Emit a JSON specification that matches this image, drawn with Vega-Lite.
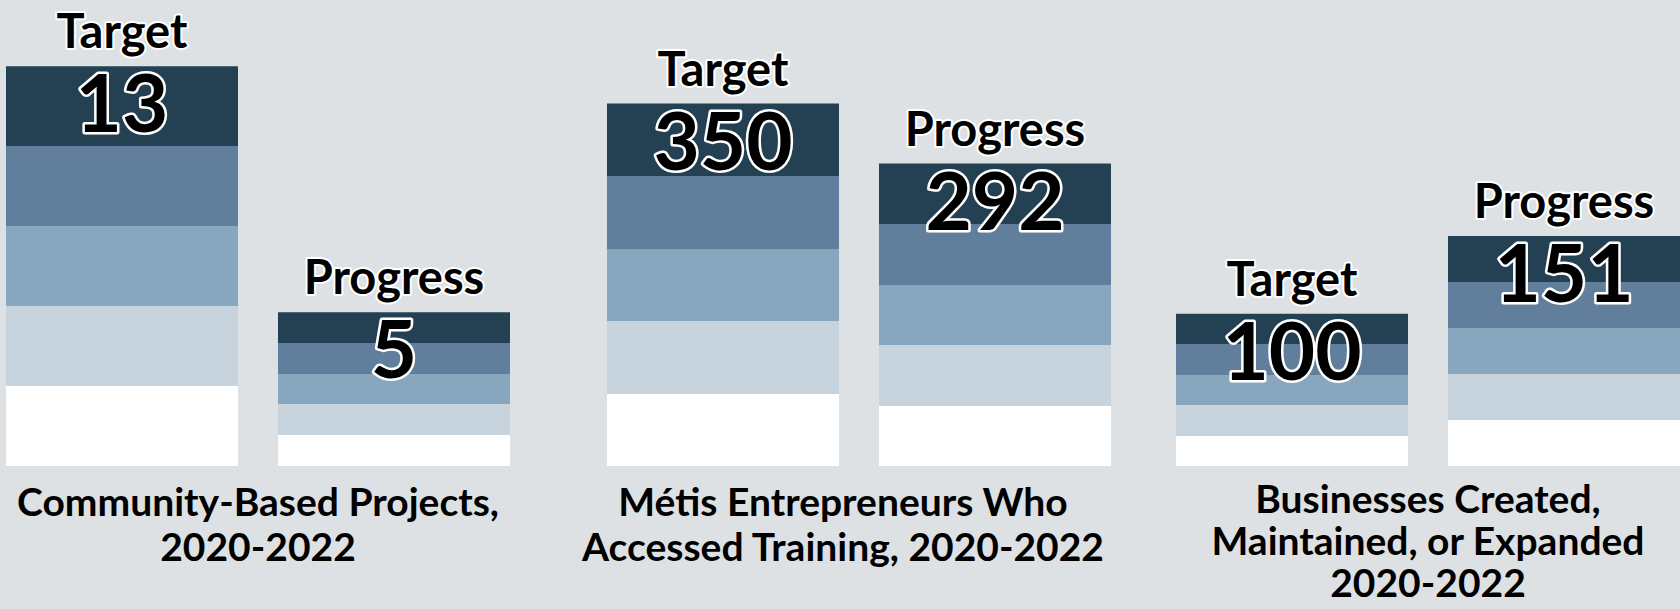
{
  "$schema": "https://vega.github.io/schema/vega-lite/v6.json",
  "background": "#dde1e3",
  "autosize": {"type": "none"},
  "padding": {"left": 6, "top": 0, "right": 1674, "bottom": 609},
  "spacing": 65,
  "bounds": "flush",
  "config": {
    "view": {"stroke": null},
    "font": "Lato",
    "title": {"font": "Lato", "fontSize": 39, "fontWeight": "bold", "color": "#000000", "lineHeight": 45, "offset": 19, "anchor": "middle", "orient": "bottom"}
  },
  "data": {"values": [
    {"group": "Community-Based Projects", "kind": "Target", "value": 13},
    {"group": "Community-Based Projects", "kind": "Progress", "value": 5},
    {"group": "Métis Entrepreneurs", "kind": "Target", "value": 350},
    {"group": "Métis Entrepreneurs", "kind": "Progress", "value": 292},
    {"group": "Businesses", "kind": "Target", "value": 100},
    {"group": "Businesses", "kind": "Progress", "value": 151}
  ]},
  "hconcat": [
    {
      "transform": [{"filter": "datum.group === 'Community-Based Projects'"}],
      "width": 504, "height": 466,
      "title": {"text": ["Community-Based Projects,", "2020-2022"], "orient": "bottom"},
      "encoding": {
        "x": {"field": "kind", "type": "nominal", "sort": ["Target", "Progress"], "axis": null, "scale": {"paddingInner": 0.147, "paddingOuter": 0}},
        "y": {"field": "value", "type": "quantitative", "axis": null, "scale": {"domain": [0, 15.15], "nice": false}}
      },
      "layer": [
        {"mark": {"type": "bar", "fill": {"gradient": "linear", "x1": 0, "y1": 0, "x2": 0, "y2": 1, "stops": [
          {"offset": 0, "color": "#244153"}, {"offset": 0.2, "color": "#244153"},
          {"offset": 0.2, "color": "#617f9c"}, {"offset": 0.4, "color": "#617f9c"},
          {"offset": 0.4, "color": "#89a6bf"}, {"offset": 0.6, "color": "#89a6bf"},
          {"offset": 0.6, "color": "#c7d4de"}, {"offset": 0.8, "color": "#c7d4de"},
          {"offset": 0.8, "color": "#ffffff"}, {"offset": 1, "color": "#ffffff"}]}}},
        {"mark": {"type": "text", "baseline": "alphabetic", "dy": -18, "fontSize": 47, "fontWeight": "bold", "fill": "#000000", "stroke": "#ffffff", "strokeWidth": 4, "strokeJoin": "round"}, "encoding": {"text": {"field": "kind"}}},
        {"mark": {"type": "text", "baseline": "alphabetic", "dy": -18, "fontSize": 47, "fontWeight": "bold", "fill": "#000000"}, "encoding": {"text": {"field": "kind"}}},
        {"mark": {"type": "text", "baseline": "top", "dy": 3, "fontSize": 80, "fontWeight": "bold", "fill": "#000000", "stroke": "#ffffff", "strokeWidth": 5, "strokeJoin": "round"}, "encoding": {"text": {"field": "value", "type": "quantitative"}}},
        {"mark": {"type": "text", "baseline": "top", "dy": 3, "fontSize": 80, "fontWeight": "bold", "fill": "#000000"}, "encoding": {"text": {"field": "value", "type": "quantitative"}}}
      ]
    },
    {
      "transform": [{"filter": "datum.group === 'Métis Entrepreneurs'"}],
      "width": 536, "height": 466,
      "title": {"text": ["Métis Entrepreneurs Who", "Accessed Training, 2020-2022"], "orient": "bottom"},
      "encoding": {
        "x": {"field": "kind", "type": "nominal", "sort": ["Target", "Progress"], "axis": null, "scale": {"paddingInner": 0.147, "paddingOuter": 0.0588, "align": 1}},
        "y": {"field": "value", "type": "quantitative", "axis": null, "scale": {"domain": [0, 450], "nice": false}}
      },
      "layer": [
        {"mark": {"type": "bar", "fill": {"gradient": "linear", "x1": 0, "y1": 0, "x2": 0, "y2": 1, "stops": [
          {"offset": 0, "color": "#244153"}, {"offset": 0.2, "color": "#244153"},
          {"offset": 0.2, "color": "#617f9c"}, {"offset": 0.4, "color": "#617f9c"},
          {"offset": 0.4, "color": "#89a6bf"}, {"offset": 0.6, "color": "#89a6bf"},
          {"offset": 0.6, "color": "#c7d4de"}, {"offset": 0.8, "color": "#c7d4de"},
          {"offset": 0.8, "color": "#ffffff"}, {"offset": 1, "color": "#ffffff"}]}}},
        {"mark": {"type": "text", "baseline": "alphabetic", "dy": -18, "fontSize": 47, "fontWeight": "bold", "fill": "#000000", "stroke": "#ffffff", "strokeWidth": 4, "strokeJoin": "round"}, "encoding": {"text": {"field": "kind"}}},
        {"mark": {"type": "text", "baseline": "alphabetic", "dy": -18, "fontSize": 47, "fontWeight": "bold", "fill": "#000000"}, "encoding": {"text": {"field": "kind"}}},
        {"mark": {"type": "text", "baseline": "top", "dy": 3, "fontSize": 80, "fontWeight": "bold", "fill": "#000000", "stroke": "#ffffff", "strokeWidth": 5, "strokeJoin": "round"}, "encoding": {"text": {"field": "value", "type": "quantitative"}}},
        {"mark": {"type": "text", "baseline": "top", "dy": 3, "fontSize": 80, "fontWeight": "bold", "fill": "#000000"}, "encoding": {"text": {"field": "value", "type": "quantitative"}}}
      ]
    },
    {
      "transform": [{"filter": "datum.group === 'Businesses'"}],
      "width": 504, "height": 466,
      "title": {"text": ["Businesses Created,", "Maintained, or Expanded", "2020-2022"], "orient": "bottom", "lineHeight": 42, "offset": 16},
      "encoding": {
        "x": {"field": "kind", "type": "nominal", "sort": ["Target", "Progress"], "axis": null, "scale": {"paddingInner": 0.147, "paddingOuter": 0}},
        "y": {"field": "value", "type": "quantitative", "axis": null, "scale": {"domain": [0, 306], "nice": false}}
      },
      "layer": [
        {"mark": {"type": "bar", "fill": {"gradient": "linear", "x1": 0, "y1": 0, "x2": 0, "y2": 1, "stops": [
          {"offset": 0, "color": "#244153"}, {"offset": 0.2, "color": "#244153"},
          {"offset": 0.2, "color": "#617f9c"}, {"offset": 0.4, "color": "#617f9c"},
          {"offset": 0.4, "color": "#89a6bf"}, {"offset": 0.6, "color": "#89a6bf"},
          {"offset": 0.6, "color": "#c7d4de"}, {"offset": 0.8, "color": "#c7d4de"},
          {"offset": 0.8, "color": "#ffffff"}, {"offset": 1, "color": "#ffffff"}]}}},
        {"mark": {"type": "text", "baseline": "alphabetic", "dy": -18, "fontSize": 47, "fontWeight": "bold", "fill": "#000000", "stroke": "#ffffff", "strokeWidth": 4, "strokeJoin": "round"}, "encoding": {"text": {"field": "kind"}}},
        {"mark": {"type": "text", "baseline": "alphabetic", "dy": -18, "fontSize": 47, "fontWeight": "bold", "fill": "#000000"}, "encoding": {"text": {"field": "kind"}}},
        {"mark": {"type": "text", "baseline": "top", "dy": 3, "fontSize": 80, "fontWeight": "bold", "fill": "#000000", "stroke": "#ffffff", "strokeWidth": 5, "strokeJoin": "round"}, "encoding": {"text": {"field": "value", "type": "quantitative"}}},
        {"mark": {"type": "text", "baseline": "top", "dy": 3, "fontSize": 80, "fontWeight": "bold", "fill": "#000000"}, "encoding": {"text": {"field": "value", "type": "quantitative"}}}
      ]
    }
  ]
}
